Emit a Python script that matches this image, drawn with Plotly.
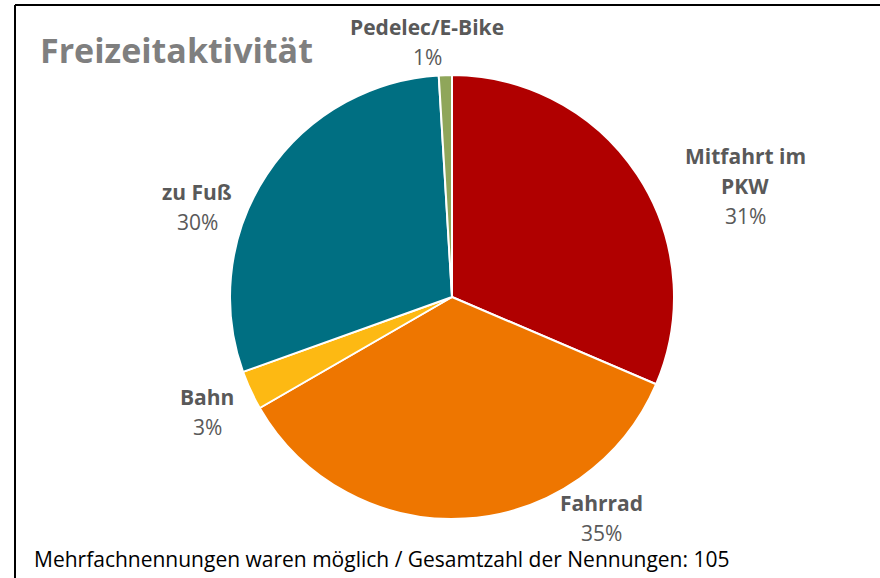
import plotly.graph_objects as go

W, H = 880, 578

categories = ["Mitfahrt im PKW", "Fahrrad", "Bahn", "zu Fuß", "Pedelec/E-Bike"]
counts = [33, 37, 3, 31, 1]
total = 105
colors = ["#B00000", "#EE7600", "#FDB913", "#006F82", "#8FA65A"]

# label lines as shown in the chart and where each block sits (pixels, centre of first line)
label_lines = [["Mitfahrt im", "PKW"], ["Fahrrad"], ["Bahn"], ["zu Fuß"], ["Pedelec/E-Bike"]]
label_pos = [(745, 156), (601, 503), (207, 397), (197, 192), (427, 27)]
line_gap = 30


def px(x):
    return x / W


def py(y):
    return 1 - y / H


fig = go.Figure()

fig.add_trace(
    go.Pie(
        labels=categories,
        values=counts,
        sort=False,
        direction="clockwise",
        rotation=0,
        marker=dict(colors=colors, line=dict(color="white", width=2)),
        textinfo="none",
        hoverinfo="label+percent",
        showlegend=False,
        domain=dict(x=[px(452 - 222), px(452 + 222)], y=[py(519), py(75)]),
    )
)

label_color = "#595959"
for lines, (x, y), v in zip(label_lines, label_pos, counts):
    pct = f"{round(v / total * 100)}%"
    for i, line in enumerate(lines):
        fig.add_annotation(
            text=f"<b>{line}</b>", x=px(x), y=py(y + i * line_gap),
            xref="paper", yref="paper", xanchor="center", yanchor="middle",
            showarrow=False, font=dict(size=21, color=label_color),
        )
    fig.add_annotation(
        text=pct, x=px(x), y=py(y + len(lines) * line_gap),
        xref="paper", yref="paper", xanchor="center", yanchor="middle",
        showarrow=False, font=dict(size=21, color=label_color),
    )

fig.add_annotation(
    text="<b>Freizeitaktivität</b>", x=px(38), y=py(50),
    xref="paper", yref="paper", xanchor="left", yanchor="middle",
    showarrow=False, font=dict(size=34, color="#7F7F7F"),
)

fig.add_annotation(
    text=f"Mehrfachnennungen waren möglich / Gesamtzahl der Nennungen: {total}",
    x=px(32), y=py(559),
    xref="paper", yref="paper", xanchor="left", yanchor="middle",
    showarrow=False, font=dict(size=21, color="black"),
)

# frame: top and left edges
fig.add_shape(type="line", xref="paper", yref="paper",
              x0=px(15), x1=1, y0=py(5), y1=py(5), line=dict(color="black", width=2))
fig.add_shape(type="line", xref="paper", yref="paper",
              x0=px(15), x1=px(15), y0=py(5), y1=0, line=dict(color="black", width=2))

fig.update_layout(
    width=W,
    height=H,
    margin=dict(t=0, r=0, b=0, l=0),
    paper_bgcolor="white",
    plot_bgcolor="white",
    font=dict(family="Open Sans"),
)

# page body has a default 8px margin; drop it so the figure fills the window
fig.write_html(
    "out.html",
    config={"displayModeBar": False},
    post_script="document.body.style.margin='0';",
)
